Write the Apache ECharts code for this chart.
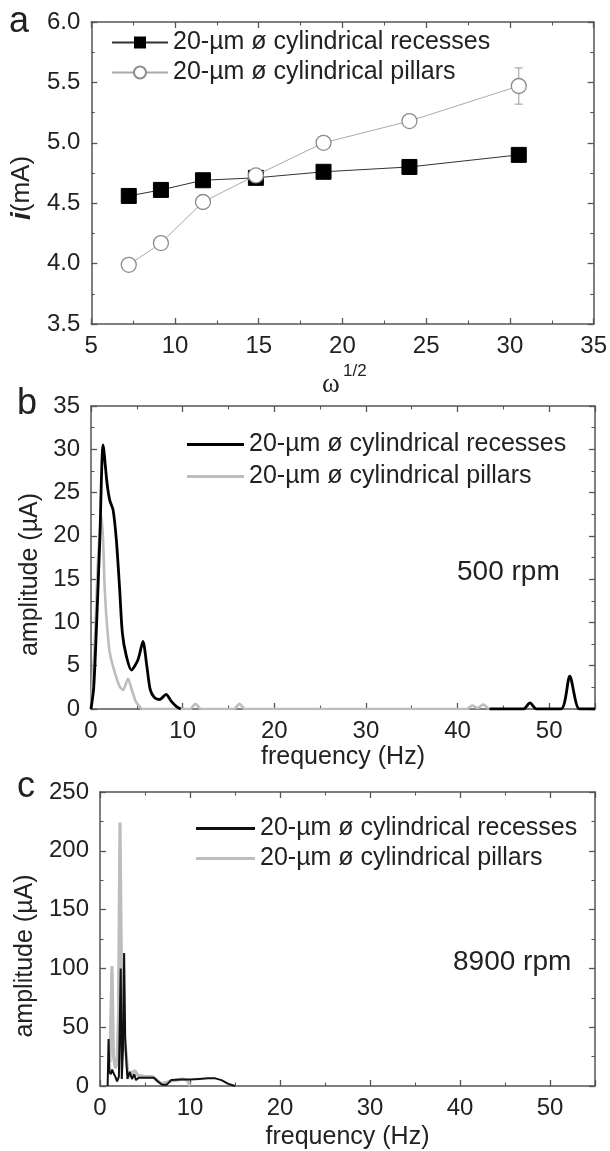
<!DOCTYPE html>
<html><head><meta charset="utf-8">
<script src="https://cdn.jsdelivr.net/npm/echarts@6/dist/echarts.min.js"></script>
<style>html,body{margin:0;padding:0;background:#fff}#c{width:610px;height:1151px}</style>
</head><body><div id="c"></div>
<script>
// ---------- data ----------
const seriesLabels = ['20-\u00b5m \u00f8 cylindrical recesses', '20-\u00b5m \u00f8 cylindrical pillars'];

// panel a: current vs sqrt(omega)
const omegaSqrt   = [7.24, 9.16, 11.67, 14.83, 18.87, 24.0, 30.53];
const recessesA   = [4.56, 4.61, 4.69, 4.71, 4.76, 4.80, 4.90];
const pillarsA    = [3.99, 4.17, 4.51, 4.73, 5.00, 5.18, 5.47];
const pillarsAErr = [0.04, 0.03, 0.04, 0.04, 0.04, 0.03, 0.15];
const xTicksA = [5, 10, 15, 20, 25, 30, 35];
const yTicksA = [3.5, 4.0, 4.5, 5.0, 5.5, 6.0];

// panel b: 500 rpm spectrum [Hz, uA]
const recessesB = [[0,0],[0.3,2.5],[0.6,9.5],[0.96,19.5],[1.32,30.5],[1.76,26],[2.05,24.1],[2.41,23],[2.77,19.5],[3.13,13.8],[3.42,8.8],[3.86,6.1],[4.4,4.5],[5.13,5.7],[5.67,7.8],[6.1,4.9],[6.47,2.2],[6.94,1.3],[7.48,1.1],[8.2,1.7],[8.75,0.9],[9.3,0.3],[9.8,0],[26,'-'],[43.5,0],[47.2,0],[47.9,0.7],[48.6,0],[51.3,0],[52.25,3.8],[53.3,0],[55,0]];
const pillarsB  = [[0,0],[0.42,8],[0.78,17.6],[1.14,22.3],[1.32,19.5],[1.5,13.8],[1.76,9.5],[2.05,6.5],[2.6,4.2],[3.13,2.6],[3.5,2.2],[4.04,3.5],[4.4,2.4],[4.87,0.9],[5.3,0.3],[5.6,0],[10.8,0],[11.4,0.6],[12,0],[15.6,0],[16.2,0.6],[16.8,0],[41,0],[41.6,0.4],[42.2,0.1],[42.8,0.5],[43.4,0]];
const xTicksB = [0, 10, 20, 30, 40, 50];
const yTicksB = [0, 5, 10, 15, 20, 25, 30, 35];

// panel c: 8900 rpm spectrum [Hz, uA]
const recessesC = [[0.85,0],[0.95,40],[1.05,12],[1.2,10],[1.35,14],[1.5,11],[1.7,8],[1.9,4],[2.1,8],[2.3,100],[2.42,6],[2.55,30],[2.68,113],[2.8,40],[2.9,25],[3.05,6],[3.3,12],[3.55,6],[3.8,10],[4.0,5],[4.3,7],[5.0,7],[6.0,7],[6.4,4],[6.9,1],[7.4,1],[7.9,5],[9,5.5],[10,5.5],[11,6],[12,6.5],[12.8,6.5],[13.5,5],[14.2,2],[15,0]];
const pillarsC  = [[1.1,20],[1.33,102],[1.5,25],[1.7,15],[1.9,20],[2.05,60],[2.22,224],[2.38,100],[2.5,50],[2.75,40],[2.9,28],[3.1,10],[3.3,8],[3.6,12],[3.9,13],[4.2,9],[5,8],[5.8,8],[6.3,5],[6.8,2],[7.3,3],[7.8,4],[8.5,5],[9.2,6],[9.7,5],[10,0]];
const xTicksC = [0, 10, 20, 30, 40, 50];
const yTicksC = [0, 50, 100, 150, 200, 250];
const xMaxBC = 55;

// ---------- styling ----------
const FONT = '"Liberation Sans", Arial, sans-serif';
const TXT = '#222';
const AX = '#555';

function step(t) { return t[1] - t[0]; }

function valueAxis(opts) {
  const { grid, pos, ticks, max, labels, fmt, name, nameGap, nameStyle, minorSplit } = opts;
  const isX = pos === 'bottom' || pos === 'top';
  return {
    type: 'value', gridIndex: grid, position: pos,
    min: ticks[0], max: max !== undefined ? max : ticks[ticks.length - 1], interval: step(ticks),
    axisLine: { show: true, onZero: false, lineStyle: { color: AX, width: 1.5 } },
    axisTick: { show: true, inside: true, length: 6, lineStyle: { color: AX, width: 1.3 } },
    minorTick: { show: true, splitNumber: minorSplit || 2, length: 3.5, lineStyle: { color: AX, width: 1.1 } },
    splitLine: { show: false },
    axisLabel: {
      show: !!labels, margin: isX ? 10 : 11, fontSize: 24, color: TXT, fontFamily: FONT,
      showMaxLabel: max === undefined ? true : false,
      formatter: fmt
    },
    name: name || '', nameLocation: 'middle', nameGap: nameGap || 0,
    nameRotate: isX ? 0 : 90,
    nameTextStyle: nameStyle || (isX
      ? { fontSize: 25, color: TXT, fontFamily: FONT }
      : { fontSize: 25, color: TXT, fontFamily: FONT, padding: [0, 34, 0, 0] })
  };
}

const fmt1 = v => v.toFixed(1);
const fmt0 = v => String(v);

const grids = [
  { left: 91, top: 22, width: 504, height: 302 },
  { left: 91, top: 406, width: 504, height: 303 },
  { left: 100, top: 792, width: 495, height: 298 }
];

const xAxes = [
  valueAxis({ grid: 0, pos: 'bottom', ticks: xTicksA, labels: true, fmt: fmt0 }),
  valueAxis({ grid: 0, pos: 'top', ticks: xTicksA }),
  valueAxis({ grid: 1, pos: 'bottom', ticks: xTicksB, max: xMaxBC, labels: true, fmt: fmt0, name: 'frequency (Hz)', nameGap: 36 }),
  valueAxis({ grid: 1, pos: 'top', ticks: xTicksB, max: xMaxBC }),
  valueAxis({ grid: 2, pos: 'bottom', ticks: xTicksC, max: xMaxBC, labels: true, fmt: fmt0, name: 'frequency (Hz)', nameGap: 39 }),
  valueAxis({ grid: 2, pos: 'top', ticks: xTicksC, max: xMaxBC })
];
const yAxes = [
  valueAxis({ grid: 0, pos: 'left', ticks: yTicksA, labels: true, fmt: fmt1, name: '{i|i}{n|(mA)}', nameGap: 50,
    nameStyle: { fontSize: 26, color: TXT, fontFamily: FONT, padding: [0, 30, 0, 0], rich: { i: { fontSize: 28, fontStyle: 'italic', fontWeight: 'bold', color: TXT, fontFamily: FONT }, n: { fontSize: 26, color: TXT, fontFamily: FONT } } } }),
  valueAxis({ grid: 0, pos: 'right', ticks: yTicksA }),
  valueAxis({ grid: 1, pos: 'left', ticks: yTicksB, labels: true, fmt: fmt0, name: 'amplitude (\u00b5A)', nameGap: 44 }),
  valueAxis({ grid: 1, pos: 'right', ticks: yTicksB }),
  valueAxis({ grid: 2, pos: 'left', ticks: yTicksC, labels: true, fmt: fmt0, name: 'amplitude (\u00b5A)', nameGap: 50 }),
  valueAxis({ grid: 2, pos: 'right', ticks: yTicksC })
];

const legendFmt = n => (n.endsWith('rec') ? seriesLabels[0] : seriesLabels[1]);
const legendText = { fontSize: 25, color: TXT, fontFamily: FONT };

const errData = omegaSqrt.map((x, i) => [x, pillarsA[i] - pillarsAErr[i], pillarsA[i] + pillarsAErr[i]]);

const option = {
  animation: false,
  backgroundColor: '#fff',
  grid: grids,
  xAxis: xAxes,
  yAxis: yAxes,
  legend: [
    { data: ['a-rec', 'a-pil'], left: 111, top: 30, padding: 0, orient: 'vertical', itemWidth: 56, itemHeight: 15, itemGap: 5, formatter: legendFmt, textStyle: legendText, selectedMode: false },
    { data: ['b-rec', 'b-pil'], left: 187, top: 432, padding: 0, orient: 'vertical', icon: 'rect', itemWidth: 57, itemHeight: 3, itemGap: 7, formatter: legendFmt, textStyle: legendText, selectedMode: false },
    { data: ['c-rec', 'c-pil'], left: 196, top: 816, padding: 0, orient: 'vertical', icon: 'rect', itemWidth: 59, itemHeight: 3, itemGap: 5, formatter: legendFmt, textStyle: legendText, selectedMode: false }
  ],
  series: [
    {
      type: 'custom', xAxisIndex: 0, yAxisIndex: 0, z: 1, silent: true,
      data: errData,
      renderItem: function (params, api) {
        const x = api.value(0), lo = api.value(1), hi = api.value(2);
        const p1 = api.coord([x, lo]), p2 = api.coord([x, hi]);
        const w = 4, st = { stroke: '#9a9a9a', lineWidth: 1 };
        return { type: 'group', children: [
          { type: 'line', shape: { x1: p1[0], y1: p1[1], x2: p2[0], y2: p2[1] }, style: st },
          { type: 'line', shape: { x1: p1[0] - w, y1: p1[1], x2: p1[0] + w, y2: p1[1] }, style: st },
          { type: 'line', shape: { x1: p2[0] - w, y1: p2[1], x2: p2[0] + w, y2: p2[1] }, style: st }
        ] };
      }
    },
    {
      name: 'a-rec', type: 'line', xAxisIndex: 0, yAxisIndex: 0, z: 2,
      data: omegaSqrt.map((x, i) => [x, recessesA[i]]),
      symbol: 'rect', symbolSize: 15,
      itemStyle: { color: '#000', borderColor: '#000' },
      lineStyle: { color: '#333', width: 1 }
    },
    {
      name: 'a-pil', type: 'line', xAxisIndex: 0, yAxisIndex: 0, z: 3,
      data: omegaSqrt.map((x, i) => [x, pillarsA[i]]),
      symbol: 'circle', symbolSize: 15,
      itemStyle: { color: '#fff', borderColor: '#8c8c8c', borderWidth: 1.3 },
      lineStyle: { color: '#aaa', width: 1 }
    },
    {
      name: 'b-pil', type: 'line', xAxisIndex: 2, yAxisIndex: 2, z: 2,
      data: pillarsB, symbol: 'none', smooth: 0.25,
      lineStyle: { color: '#bdbdbd', width: 2.6 }, itemStyle: { color: '#bdbdbd' }
    },
    {
      name: 'b-rec', type: 'line', xAxisIndex: 2, yAxisIndex: 2, z: 3,
      data: recessesB, symbol: 'none', smooth: 0.25, connectNulls: false,
      lineStyle: { color: '#000', width: 2.8 }, itemStyle: { color: '#000' }
    },
    {
      name: 'c-pil', type: 'line', xAxisIndex: 4, yAxisIndex: 4, z: 2,
      data: pillarsC, symbol: 'none',
      lineStyle: { color: '#bdbdbd', width: 3.2 }, itemStyle: { color: '#bdbdbd' }
    },
    {
      name: 'c-rec', type: 'line', xAxisIndex: 4, yAxisIndex: 4, z: 3,
      data: recessesC, symbol: 'none',
      lineStyle: { color: '#111', width: 2 }, itemStyle: { color: '#111' }
    }
  ],
  graphic: [
    { type: 'text', left: 9, top: 4, style: { text: 'a', font: '36px ' + FONT, fill: TXT } },
    { type: 'text', left: 17, top: 386, style: { text: 'b', font: '36px ' + FONT, fill: TXT } },
    { type: 'text', left: 17, top: 769, style: { text: 'c', font: '36px ' + FONT, fill: TXT } },
    { type: 'text', left: 457, top: 558, style: { text: '500 rpm', font: '28px ' + FONT, fill: TXT } },
    { type: 'text', left: 453, top: 948, style: { text: '8900 rpm', font: '28px ' + FONT, fill: TXT } },
    { type: 'text', left: 322, top: 371, style: { text: '\u03c9', font: '27px "Liberation Serif", serif', fill: TXT } },
    { type: 'text', left: 343, top: 363, style: { text: '1/2', font: '17px ' + FONT, fill: TXT } }
  ]
};

const chart = echarts.init(document.getElementById('c'), null, { renderer: 'canvas' });
chart.setOption(option);
</script>
</body></html>
